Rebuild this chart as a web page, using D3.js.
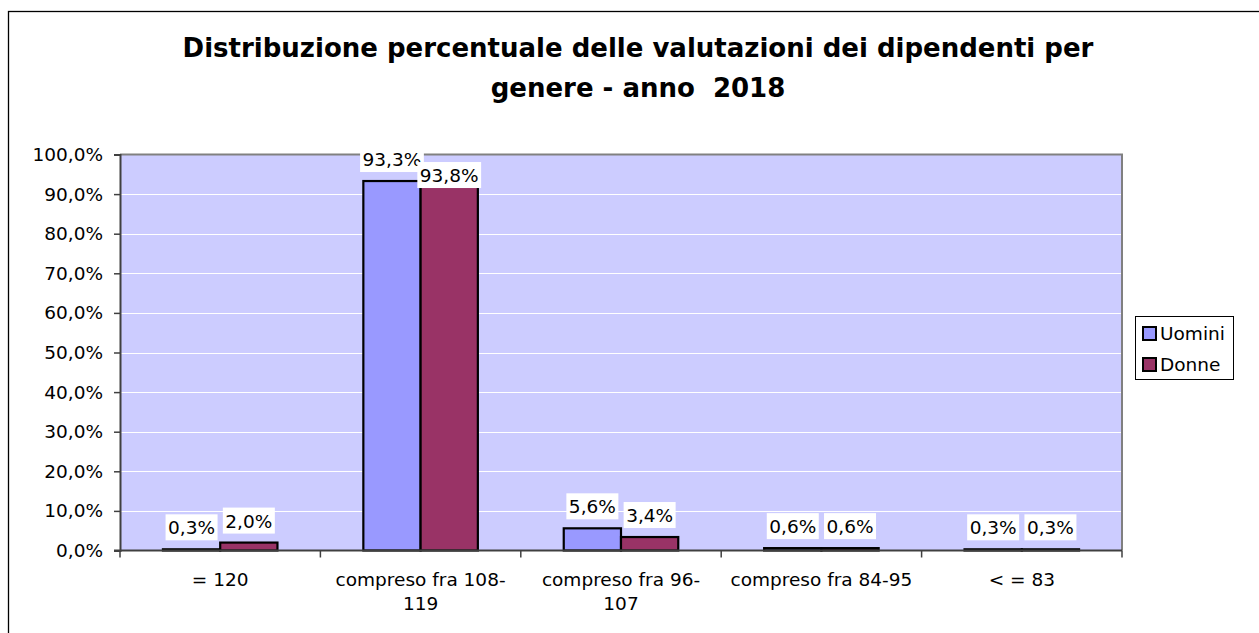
<!DOCTYPE html>
<html>
<head>
<meta charset="utf-8">
<script src="https://cdn.jsdelivr.net/npm/d3@7"></script>
<style>
  html, body { margin: 0; padding: 0; background: #fff; }
  svg { display: block; font-family: "DejaVu Sans", Verdana, sans-serif; }
  text { white-space: pre; }
</style>
</head>
<body>
<div id="chart"></div>
<script>
const categories = ["= 120", "compreso fra 108-119", "compreso fra 96-107", "compreso fra 84-95", "< = 83"];
const seriesNames = ["Uomini", "Donne"];
const uomini = [0.3, 93.3, 5.6, 0.6, 0.3];
const donne = [2.0, 93.8, 3.4, 0.6, 0.3];
const yTicks = [0, 10, 20, 30, 40, 50, 60, 70, 80, 90, 100];
const titleLines = ["Distribuzione percentuale delle valutazioni dei dipendenti per", "genere - anno  2018"];

const colors = { Uomini: "#9999FF", Donne: "#993366" };
const width = 1259;
const height = 633;
const plot = { left: 120, right: 1122, top: 154.5, bottom: 550.5 };
const fontSize = 18.5;

const svg = d3.select("#chart").append("svg").attr("width", width).attr("height", height);

// outer chart border (runs off the right and bottom edges)
svg.append("rect")
  .attr("x", 8.5).attr("y", 11.5)
  .attr("width", 1300).attr("height", 700)
  .attr("fill", "none").attr("stroke", "#000").attr("stroke-width", 1.3);

// title
svg.append("g").selectAll("text")
  .data(titleLines)
  .join("text")
  .attr("x", 638)
  .attr("y", (d, i) => 57 + i * 40)
  .attr("text-anchor", "middle")
  .attr("font-weight", "bold")
  .attr("font-size", 26)
  .text((d) => d);

const x = d3.scaleBand().domain(categories).range([plot.left, plot.right]).paddingInner(0).paddingOuter(0);
const xs = d3.scaleBand().domain(seriesNames).range([0, x.bandwidth()]).paddingInner(0).paddingOuter(0.75);
const y = d3.scaleLinear().domain([0, 100]).range([plot.bottom, plot.top]);

// plot background
svg.append("rect")
  .attr("x", plot.left).attr("y", plot.top)
  .attr("width", plot.right - plot.left).attr("height", plot.bottom - plot.top)
  .attr("fill", "#CCCCFF");

// gridlines
svg.append("g").selectAll("line")
  .data(yTicks.filter((t) => t > 0 && t < 100))
  .join("line")
  .attr("x1", plot.left).attr("x2", plot.right)
  .attr("y1", (d) => Math.round(y(d)) + 0.5).attr("y2", (d) => Math.round(y(d)) + 0.5)
  .attr("stroke", "#ffffff").attr("stroke-width", 1);

// plot border top / right
svg.append("path")
  .attr("d", `M${plot.left},${plot.top}H${plot.right}V${plot.bottom}`)
  .attr("fill", "none").attr("stroke", "#808080").attr("stroke-width", 2);

const data = [];
categories.forEach((c, i) => {
  data.push({ cat: c, series: "Uomini", value: uomini[i] });
  data.push({ cat: c, series: "Donne", value: donne[i] });
});

// bars
svg.append("g").selectAll("rect")
  .data(data)
  .join("rect")
  .attr("x", (d) => x(d.cat) + xs(d.series))
  .attr("y", (d) => y(d.value))
  .attr("width", xs.bandwidth())
  .attr("height", (d) => plot.bottom - y(d.value))
  .attr("fill", (d) => colors[d.series])
  .attr("stroke", "#000").attr("stroke-width", 2.2);

// y axis
const fmt = (v) => d3.format(".1f")(v).replace(".", ",") + "%";
const yAxis = svg.append("g")
  .attr("transform", `translate(${plot.left},0)`)
  .call(d3.axisLeft(y).tickValues(yTicks).tickFormat(fmt).tickSize(6).tickPadding(11));
yAxis.select(".domain").attr("stroke", "#404040").attr("stroke-width", 2);
yAxis.selectAll(".tick line").attr("stroke", "#404040").attr("stroke-width", 1.5);
yAxis.selectAll(".tick text").attr("font-size", fontSize).attr("fill", "#000").attr("font-family", "DejaVu Sans, Verdana, sans-serif");

// x axis line and ticks at category boundaries
const xEdges = categories.map((c) => x(c)).concat([x.range()[1]]);
const xAxis = svg.append("g");
xAxis.append("line")
  .attr("x1", plot.left - 6).attr("x2", plot.right)
  .attr("y1", plot.bottom).attr("y2", plot.bottom)
  .attr("stroke", "#404040").attr("stroke-width", 2);
xAxis.selectAll(".xtick")
  .data(xEdges)
  .join("line")
  .attr("class", "xtick")
  .attr("x1", (d) => d).attr("x2", (d) => d)
  .attr("y1", plot.bottom).attr("y2", plot.bottom + 7)
  .attr("stroke", "#404040").attr("stroke-width", 1.5);

// x labels with wrapping
function wrapLabel(text, maxW, size) {
  const measure = svg.append("text").attr("font-size", size);
  const tokens = text.split(/(?<=[ -])/);
  const lines = [];
  let cur = "";
  tokens.forEach((t) => {
    measure.text(cur + t);
    if (cur && measure.node().getComputedTextLength() > maxW) {
      lines.push(cur.trimEnd());
      cur = t;
    } else {
      cur += t;
    }
  });
  if (cur) lines.push(cur.trimEnd());
  measure.remove();
  return lines;
}
const xLabels = svg.append("g");
categories.forEach((c) => {
  const lines = wrapLabel(c, x.bandwidth() - 14, fontSize);
  xLabels.append("text")
    .attr("text-anchor", "middle")
    .attr("font-size", fontSize)
    .selectAll("tspan")
    .data(lines)
    .join("tspan")
    .attr("x", x(c) + x.bandwidth() / 2)
    .attr("y", (d, i) => 586 + i * 24)
    .text((d) => d);
});

// data labels with white boxes
const labelG = svg.append("g");
let prevBox = null;
data.forEach((d) => {
  const cx = x(d.cat) + xs(d.series) + xs.bandwidth() / 2;
  const g = labelG.append("g");
  const t = g.append("text")
    .attr("text-anchor", "middle")
    .attr("font-size", fontSize)
    .text(fmt(d.value));
  const w = t.node().getComputedTextLength() + 5;
  const h = 26;
  let top = y(d.value) - 9 - h;
  const box = { x0: cx - w / 2, x1: cx + w / 2, top };
  if (prevBox && prevBox.cat === d.cat && box.x0 < prevBox.x1 && Math.abs(top - prevBox.top) < h) {
    top = prevBox.top + 16;
    box.top = top;
  }
  box.cat = d.cat;
  prevBox = box;
  g.insert("rect", "text")
    .attr("x", box.x0).attr("y", top)
    .attr("width", w).attr("height", h)
    .attr("fill", "#fff");
  t.attr("x", cx).attr("y", top + 20);
});

// legend
const legend = svg.append("g").attr("transform", "translate(1135,316)");
legend.append("rect")
  .attr("x", 0.5).attr("y", 0.5).attr("width", 98).attr("height", 63)
  .attr("fill", "#fff").attr("stroke", "#000").attr("stroke-width", 1);
const items = legend.selectAll(".item")
  .data(seriesNames)
  .join("g")
  .attr("class", "item")
  .attr("transform", (d, i) => `translate(0,${10 + i * 31})`);
items.append("rect")
  .attr("x", 8).attr("y", 1).attr("width", 13).attr("height", 13)
  .attr("fill", (d) => colors[d]).attr("stroke", "#000").attr("stroke-width", 2);
items.append("text")
  .attr("x", 25).attr("y", 14)
  .attr("font-size", fontSize)
  .text((d) => d);
</script>
</body>
</html>
